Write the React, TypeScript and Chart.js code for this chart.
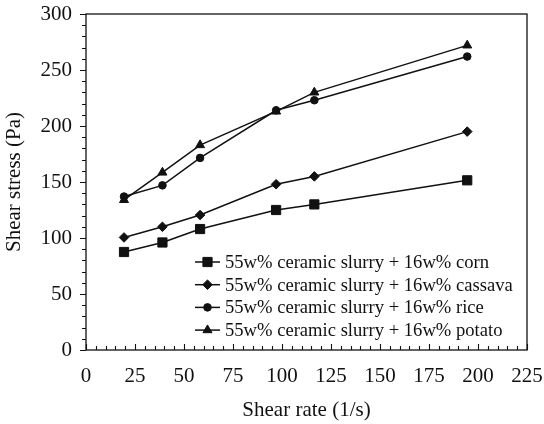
import React, { useEffect, useRef } from 'react';
import { Chart, registerables } from 'chart.js';
import { drawPoint } from 'chart.js/helpers';

Chart.register(...registerables);

const shearRate = [19.4, 39, 58.2, 97, 116.5, 194.5];
const cornStress = [87.5, 96, 108, 125, 130, 151.5];
const cassavaStress = [100.5, 110, 120.5, 148, 155, 195];
const riceStress = [137, 147, 171.5, 214, 223, 262];
const potatoStress = [134, 158.5, 183, 213, 230, 272];

const seriesLabels = [
  '55w% ceramic slurry + 16w% corn',
  '55w% ceramic slurry + 16w% cassava',
  '55w% ceramic slurry + 16w% rice',
  '55w% ceramic slurry + 16w% potato',
];
const seriesValues = [cornStress, cassavaStress, riceStress, potatoStress];
const seriesPointStyles = ['rect', 'rectRot', 'circle', 'triangle'];
const seriesPointRadius = [6.5, 4.8, 3.8, 5.2];

const xMin = 0, xMax = 225, xMajor = 25, xMinor = 5;
const yMin = 0, yMax = 300, yMajor = 50, yMinor = 10;

const FONT = "'Liberation Serif', 'Times New Roman', serif";

const framePlugin = {
  id: 'frameTicks',
  afterDraw(chart: any) {
    const { ctx, chartArea } = chart;
    const { left, right, top, bottom } = chartArea;
    const xs = chart.scales.x;
    const ys = chart.scales.y;
    ctx.save();
    ctx.strokeStyle = '#111';
    ctx.lineWidth = 1.3;
    ctx.strokeRect(left, top, right - left, bottom - top);
    ctx.lineWidth = 1.1;
    ctx.beginPath();
    for (let v = yMin; v <= yMax; v += yMinor) {
      const y = Math.round(ys.getPixelForValue(v)) + 0.5;
      const len = v % yMajor === 0 ? 6 : 4;
      ctx.moveTo(left, y);
      ctx.lineTo(left - len, y);
    }
    for (let v = xMin; v <= xMax; v += xMinor) {
      const x = Math.round(xs.getPixelForValue(v)) + 0.5;
      const len = v % xMajor === 0 ? 6 : 4;
      ctx.moveTo(x, bottom);
      ctx.lineTo(x, bottom - len);
    }
    ctx.stroke();

    // legend
    const lx = left + 109;
    const ly0 = top + 248;
    const rowH = 22.7;
    chart.data.datasets.forEach((ds: any, i: number) => {
      const y = ly0 + i * rowH;
      ctx.strokeStyle = '#111';
      ctx.lineWidth = 1.5;
      ctx.beginPath();
      ctx.moveTo(lx, y);
      ctx.lineTo(lx + 25, y);
      ctx.stroke();
      ctx.fillStyle = '#111';
      ctx.strokeStyle = '#111';
      ctx.lineWidth = 1;
      drawPoint(ctx, { pointStyle: ds.pointStyle, radius: ds.pointRadius, rotation: 0, borderWidth: 1 }, lx + 12.5, y);
      ctx.fillStyle = '#111';
      ctx.font = `18.6px ${FONT}`;
      ctx.textBaseline = 'middle';
      ctx.textAlign = 'left';
      ctx.fillText(ds.label, lx + 30, y + 1);
    });
    ctx.restore();
  },
};

const noPad = (s: any) => {
  s.paddingTop = 0;
  s.paddingBottom = 0;
  s.paddingLeft = 0;
  s.paddingRight = 0;
};

export default function App() {
  const canvasRef = useRef<HTMLCanvasElement | null>(null);

  useEffect(() => {
    document.body.style.margin = '0';
    const canvas = canvasRef.current;
    if (!canvas) return;
    const chart = new Chart(canvas, {
      type: 'line',
      data: {
        datasets: seriesValues.map((vals, i) => ({
          label: seriesLabels[i],
          data: shearRate.map((x, j) => ({ x, y: vals[j] })),
          borderColor: '#111',
          backgroundColor: '#111',
          borderWidth: 1.5,
          pointStyle: seriesPointStyles[i] as any,
          pointRadius: seriesPointRadius[i],
          pointBorderWidth: 1,
          pointBorderColor: '#111',
          pointBackgroundColor: '#111',
          tension: 0,
          fill: false,
        })),
      },
      options: {
        animation: false,
        responsive: false,
        maintainAspectRatio: false,
        layout: { padding: { left: 0, right: 17, top: 14, bottom: 0 } },
        plugins: {
          legend: { display: false },
          tooltip: { enabled: false },
        },
        scales: {
          x: {
            type: 'linear',
            min: xMin,
            max: xMax,
            grid: { display: false, drawTicks: false },
            border: { display: false },
            ticks: {
              stepSize: xMajor,
              autoSkip: false,
              maxRotation: 0,
              padding: 14,
              color: '#111',
              font: { family: FONT, size: 21 },
            },
            title: {
              display: true,
              text: 'Shear rate (1/s)',
              color: '#111',
              font: { family: FONT, size: 21 },
              padding: { top: 0, bottom: 1 },
            },
            afterFit: (s: any) => { s.height = 74; noPad(s); },
          },
          y: {
            type: 'linear',
            min: yMin,
            max: yMax,
            grid: { display: false, drawTicks: false },
            border: { display: false },
            ticks: {
              stepSize: yMajor,
              autoSkip: false,
              padding: 14,
              color: '#111',
              font: { family: FONT, size: 21 },
            },
            title: {
              display: true,
              text: 'Shear stress (Pa)',
              color: '#111',
              font: { family: FONT, size: 21 },
              padding: { top: 2, bottom: 0 },
            },
            afterFit: (s: any) => { s.width = 86; noPad(s); },
          },
        },
      },
      plugins: [framePlugin],
    });
    return () => chart.destroy();
  }, []);

  return (
    <div style={{ width: 544, height: 424, background: '#fff' }}>
      <canvas ref={canvasRef} width={544} height={424} style={{ display: 'block' }} />
    </div>
  );
}
